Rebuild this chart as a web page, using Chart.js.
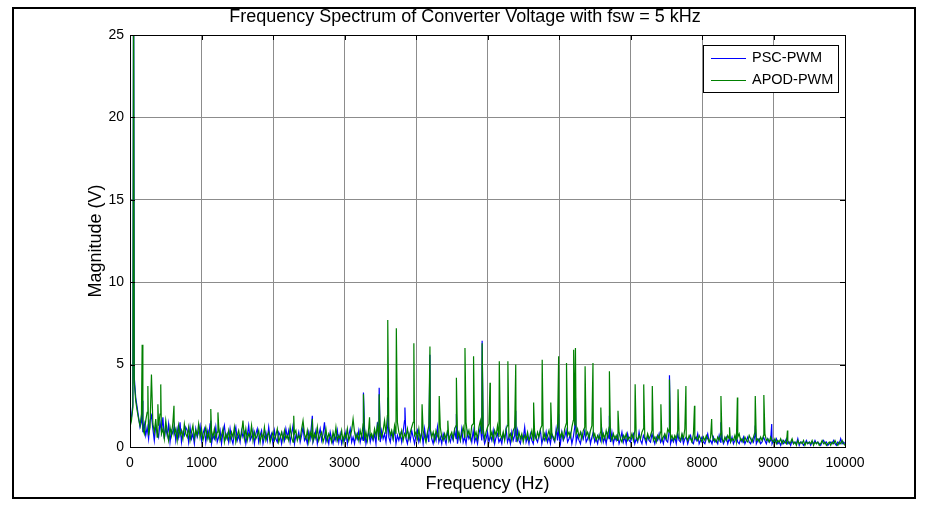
<!DOCTYPE html>
<html>
<head>
<meta charset="utf-8">
<title>Frequency Spectrum of Converter Voltage</title>
<script src="https://cdn.jsdelivr.net/npm/chart.js@4.4.0/dist/chart.umd.min.js"></script>
<style>
  html, body { margin: 0; padding: 0; background: #fff; }
  #wrap { width: 928px; height: 505px; }
</style>
</head>
<body>
<div id="wrap"><canvas id="spectrum" width="928" height="505"></canvas></div>
<script>
// FFT bin width (Hz) of the noise floor arrays below
const binStep = 20;

const xTicks = [0, 1000, 2000, 3000, 4000, 5000, 6000, 7000, 8000, 9000, 10000];
const yTicks = [0, 5, 10, 15, 20, 25];

// APOD-PWM noise floor, one value per 20 Hz bin (0 .. 10000 Hz), 200 Hz per row
const apodNoise = [
  1.2, 1.6, 2.4, 3.9, 2.8, 2.2, 1.7, 1.3, 2.0, 1.1,
  0.8, 1.6, 2.1, 0.7, 1.2, 0.5, 1.4, 0.9, 1.7, 0.6,
  1.3, 2.0, 0.8, 1.1, 0.5, 1.6, 0.9, 0.4, 1.2, 0.7,
  1.5, 0.8, 1.1, 0.4, 1.3, 0.7, 1.0, 0.5, 1.4, 0.8,
  0.6, 1.2, 0.4, 0.9, 1.3, 0.5, 1.0, 0.7, 1.4, 0.6,
  1.1, 0.4, 0.8, 1.2, 0.5, 0.9, 0.3, 1.0, 0.6, 1.1,
  0.5, 0.9, 1.3, 0.4, 0.7, 1.1, 0.3, 0.8, 0.5, 1.0,
  0.4, 0.9, 0.6, 1.2, 0.3, 0.7, 1.0, 0.5, 0.8, 1.3,
  0.5, 1.1, 0.4, 0.8, 0.6, 1.3, 0.4, 0.9, 0.5, 0.7,
  1.0, 0.3, 0.8, 0.5, 1.2, 0.4, 0.7, 0.9, 0.3, 0.6,
  0.9, 0.4, 0.7, 1.1, 0.3, 0.6, 0.9, 0.4, 1.0, 0.5,
  0.7, 0.4, 1.2, 0.6, 0.3, 0.8, 1.0, 0.4, 0.7, 0.5,
  1.1, 0.4, 0.8, 0.5, 1.0, 0.3, 0.9, 0.6, 0.4, 0.8,
  0.5, 1.2, 0.4, 0.7, 0.9, 0.3, 0.6, 1.1, 0.4, 0.8,
  0.6, 0.3, 0.9, 0.5, 1.2, 0.4, 0.7, 0.5, 1.0, 0.3,
  0.8, 0.5, 1.1, 0.4, 0.7, 1.0, 0.3, 0.9, 0.5, 0.8,
  0.4, 1.0, 0.6, 1.4, 0.5, 0.9, 0.4, 1.2, 0.6, 0.8,
  0.5, 1.1, 0.7, 1.3, 0.4, 0.9, 0.6, 1.0, 1.6, 0.8,
  1.9, 1.2, 0.7, 1.0, 0.5, 1.3, 0.8, 1.5, 0.9, 0.6,
  1.0, 0.4, 0.8, 0.6, 1.1, 0.5, 0.9, 1.2, 1.5, 0.7,
  0.9, 0.5, 1.1, 0.4, 0.8, 1.0, 0.6, 0.3, 0.9, 1.3,
  1.1, 0.6, 0.9, 0.4, 1.0, 0.7, 0.5, 1.2, 0.6, 0.4,
  0.8, 0.5, 1.0, 0.4, 0.7, 0.9, 0.5, 1.1, 1.3, 0.6,
  0.9, 0.4, 0.8, 1.2, 0.6, 1.5, 0.7, 1.0, 0.5, 1.3,
  1.4, 0.6, 0.9, 0.5, 1.2, 1.6, 0.8, 1.1, 0.5, 0.9,
  1.2, 1.4, 0.6, 0.9, 0.4, 1.0, 0.7, 1.3, 0.6, 0.8,
  0.5, 0.9, 0.4, 1.1, 1.3, 0.6, 0.8, 0.4, 1.0, 1.2,
  0.7, 0.4, 0.9, 0.5, 0.8, 0.3, 0.7, 0.5, 0.9, 0.4,
  0.6, 1.0, 0.4, 0.7, 0.5, 0.9, 0.6, 1.1, 1.3, 0.5,
  0.8, 0.4, 0.7, 1.0, 0.5, 0.8, 0.6, 0.4, 0.9, 1.2,
  1.0, 0.6, 0.9, 0.5, 1.1, 1.4, 0.7, 0.9, 0.6, 1.2,
  1.6, 1.3, 0.8, 1.1, 0.6, 0.9, 0.5, 1.0, 1.2, 0.7,
  0.9, 0.5, 1.0, 1.3, 0.6, 0.8, 0.4, 0.7, 0.5, 0.9,
  0.4, 0.8, 0.5, 1.0, 0.6, 1.2, 0.7, 0.4, 0.8, 0.5,
  0.7, 0.4, 0.9, 0.5, 0.3, 0.7, 0.5, 0.8, 0.4, 0.6,
  0.5, 0.8, 0.4, 1.0, 0.6, 0.4, 0.7, 0.5, 0.9, 1.1,
  0.6, 0.4, 0.8, 0.5, 0.7, 1.0, 0.4, 0.6, 0.3, 0.7,
  0.5, 0.9, 0.4, 0.6, 0.8, 0.5, 1.1, 0.9, 0.5, 0.7,
  0.4, 0.7, 0.5, 1.0, 0.6, 0.4, 0.8, 0.5, 1.1, 0.6,
  0.4, 0.7, 0.5, 0.3, 0.8, 0.5, 0.6, 0.4, 0.7, 0.5,
  0.3, 0.6, 0.4, 0.7, 0.5, 0.3, 0.6, 0.8, 0.4, 0.5,
  0.3, 0.6, 0.4, 0.8, 0.5, 0.3, 0.6, 0.4, 0.7, 0.5,
  0.3, 0.5, 0.4, 0.7, 0.3, 0.6, 0.8, 0.4, 0.5, 0.3,
  0.6, 0.4, 0.3, 0.7, 0.5, 0.3, 0.6, 0.9, 0.4, 0.5,
  0.3, 0.6, 0.4, 0.7, 0.8, 0.4, 0.5, 0.3, 0.6, 0.4,
  0.3, 0.5, 0.2, 0.4, 0.3, 0.5, 0.2, 0.4, 0.3, 0.2,
  0.4, 0.2, 0.3, 0.5, 0.2, 0.3, 0.1, 0.4, 0.2, 0.3,
  0.2, 0.4, 0.1, 0.3, 0.2, 0.3, 0.2, 0.4, 0.1, 0.3,
  0.2, 0.3, 0.1, 0.2, 0.4, 0.2, 0.3, 0.1, 0.2, 0.3,
  0.1, 0.3, 0.2, 0.4, 0.2, 0.1, 0.3, 0.2, 0.4, 0.2,
  0.1
];

// PSC-PWM noise floor, same bins
const pscNoise = [
  1.3, 1.8, 2.6, 4.2, 3.0, 2.4, 1.8, 1.2, 1.5, 0.9,
  1.4, 0.7, 1.2, 0.5, 1.6, 0.8, 1.1, 0.4, 1.3, 0.9,
  0.6, 1.5, 0.9, 1.8, 0.5, 1.2, 0.7, 1.4, 0.3, 1.0,
  0.8, 1.3, 0.4, 1.1, 0.6, 1.5, 0.3, 0.9, 0.7, 1.2,
  1.0, 0.3, 1.2, 0.5, 0.8, 0.2, 1.1, 0.6, 0.9, 1.3,
  0.4, 0.8, 1.1, 0.3, 1.0, 0.6, 1.4, 0.2, 0.7, 0.5,
  1.2, 0.3, 0.6, 1.0, 0.2, 0.9, 1.3, 0.5, 0.8, 0.3,
  1.1, 0.5, 0.2, 0.8, 1.2, 0.4, 0.7, 0.3, 1.0, 0.6,
  0.9, 0.2, 0.7, 1.3, 0.4, 0.6, 1.0, 0.2, 0.8, 1.1,
  0.3, 0.7, 1.0, 0.2, 0.6, 0.9, 0.4, 1.2, 0.5, 0.8,
  0.2, 1.0, 0.5, 0.3, 0.9, 0.7, 0.2, 0.8, 0.4, 1.1,
  0.6, 1.0, 0.3, 0.8, 1.3, 0.2, 0.7, 0.5, 0.9, 0.3,
  0.7, 1.2, 0.4, 0.6, 0.2, 0.9, 0.5, 1.4, 0.3, 0.6,
  1.0, 0.2, 0.7, 1.1, 0.4, 0.8, 1.5, 0.3, 0.6, 0.2,
  0.9, 0.5, 0.2, 0.7, 0.4, 1.0, 0.3, 0.8, 0.2, 0.6,
  0.4, 0.9, 0.2, 0.7, 1.1, 0.3, 0.6, 0.2, 0.8, 0.5,
  1.0, 0.3, 0.7, 0.4, 1.2, 0.2, 0.6, 0.9, 0.3, 0.7,
  0.4, 0.8, 0.2, 1.5, 0.6, 0.3, 1.0, 0.5, 0.8, 0.3,
  1.2, 0.6, 0.3, 0.9, 0.5, 1.1, 0.2, 0.7, 0.4, 0.8,
  0.3, 0.9, 1.6, 0.5, 0.2, 0.8, 0.4, 1.0, 0.6, 0.2,
  0.7, 1.0, 0.3, 0.6, 0.9, 0.2, 1.1, 0.4, 0.8, 0.3,
  1.0, 0.5, 0.2, 0.7, 0.4, 1.2, 0.3, 0.6, 0.2, 0.8,
  0.5, 0.2, 0.9, 0.6, 0.3, 0.7, 0.4, 1.0, 0.5, 0.2,
  0.8, 0.4, 1.1, 0.3, 0.6, 0.2, 0.9, 0.5, 0.7, 0.3,
  1.0, 0.3, 0.6, 0.2, 0.8, 1.2, 0.4, 0.7, 0.2, 0.5,
  0.9, 0.3, 0.7, 0.4, 1.0, 0.2, 0.6, 0.8, 0.3, 0.5,
  0.2, 0.8, 0.5, 1.1, 0.3, 0.6, 0.2, 0.9, 0.4, 0.7,
  0.3, 1.0, 0.4, 0.2, 0.7, 0.5, 1.2, 0.3, 0.6, 0.2,
  0.8, 0.4, 0.2, 0.9, 0.5, 0.3, 0.7, 1.0, 0.2, 0.6,
  0.4, 0.9, 0.3, 0.6, 0.2, 0.8, 0.5, 0.3, 1.1, 0.4,
  0.7, 0.2, 0.9, 0.4, 0.6, 1.0, 0.3, 0.5, 0.8, 0.2,
  0.6, 1.2, 0.3, 0.7, 0.4, 0.2, 0.8, 0.5, 1.0, 0.3,
  0.5, 0.8, 0.2, 0.6, 0.9, 0.3, 0.5, 0.2, 0.7, 0.4,
  1.0, 0.3, 0.6, 0.2, 0.8, 0.5, 0.3, 0.9, 0.2, 0.6,
  0.4, 0.7, 0.2, 0.5, 0.9, 0.3, 0.6, 0.2, 0.8, 0.4,
  0.3, 0.6, 0.8, 0.2, 0.5, 0.3, 0.9, 0.4, 0.2, 0.7,
  0.5, 0.2, 0.7, 0.4, 0.3, 0.8, 0.5, 0.2, 0.6, 0.4,
  0.8, 0.3, 0.5, 0.2, 0.7, 0.4, 0.3, 0.9, 0.2, 0.5,
  0.3, 0.6, 0.2, 0.8, 0.4, 0.3, 0.7, 0.2, 0.5, 0.6,
  0.2, 0.5, 0.7, 0.3, 0.2, 0.6, 0.4, 0.8, 0.2, 0.4,
  0.6, 0.3, 0.2, 0.5, 0.8, 0.3, 0.4, 0.2, 0.6, 0.3,
  0.4, 0.2, 0.7, 0.3, 0.5, 0.2, 0.4, 0.6, 0.2, 0.5,
  0.3, 0.6, 0.2, 0.4, 0.7, 0.3, 0.2, 0.5, 0.3, 0.6,
  0.2, 0.4, 0.6, 0.3, 0.2, 0.5, 0.3, 0.7, 0.2, 0.4,
  0.5, 0.2, 0.3, 0.6, 0.4, 0.2, 0.5, 0.3, 0.4, 0.2,
  0.4, 0.3, 0.5, 0.2, 0.3, 0.1, 0.4, 0.2, 0.3, 0.5,
  0.2, 0.3, 0.1, 0.4, 0.2, 0.3, 0.2, 0.5, 0.1, 0.3,
  0.3, 0.1, 0.2, 0.4, 0.2, 0.3, 0.1, 0.3, 0.2, 0.4,
  0.2, 0.3, 0.2, 0.1, 0.3, 0.4, 0.2, 0.3, 0.1, 0.2,
  0.3, 0.2, 0.4, 0.2, 0.1, 0.3, 0.2, 0.5, 0.2, 0.3,
  0.2
];

// harmonic spikes [frequency Hz, magnitude V]
const apodPeaks = [
  [50, 30], [170, 6.2], [250, 3.7], [300, 4.4], [390, 2.6], [430, 3.8],
  [615, 2.5], [1130, 2.3], [1230, 2.1], [1580, 1.6], [2290, 1.9], [2420, 1.6],
  [2550, 1.7], [3120, 1.7], [3265, 3.2], [3350, 1.8], [3485, 3.2], [3605, 7.7],
  [3725, 7.2], [3970, 6.3], [4085, 2.6], [4195, 6.1], [4325, 3.1], [4445, 1.6],
  [4565, 4.2], [4685, 6.0], [4805, 5.5], [4925, 6.3], [5035, 3.9], [5165, 5.2],
  [5285, 5.2], [5395, 5.0], [5645, 2.7], [5765, 5.3], [5885, 2.7], [5995, 5.5],
  [6105, 5.1], [6205, 5.9], [6230, 6.0], [6365, 4.9], [6475, 5.1], [6585, 2.4],
  [6705, 4.6], [6825, 2.2], [7065, 3.8], [7185, 3.8], [7305, 3.7], [7425, 2.6],
  [7545, 4.1], [7665, 3.5], [7775, 3.7], [7895, 2.5], [8135, 1.7], [8265, 3.1],
  [8385, 1.2], [8495, 3.0], [8745, 3.1], [8865, 3.15], [9195, 1.0]
];

const pscPeaks = [
  [50, 30], [170, 2.8], [300, 1.9], [1130, 1.6], [2550, 1.9], [3265, 3.3],
  [3485, 3.6], [3605, 3.0], [3845, 2.4], [4195, 5.6], [4565, 2.0], [4925, 6.45],
  [5395, 2.2], [5995, 2.0], [6230, 3.0], [6705, 1.9], [7545, 4.35], [8265, 1.5],
  [8745, 1.3], [8975, 1.4]
];

const pscColor = "#0000ff";
const apodColor = "#008000";

function buildSeries(noise, peaks) {
  const pts = noise.map((v, i) => ({ x: i * binStep, y: v }));
  peaks.forEach(([f, v]) => {
    const hit = pts.find(p => p.x === f);
    if (hit) hit.y = v;
    else pts.push({ x: f, y: v });
  });
  return pts.sort((a, b) => a.x - b.x);
}

const font = "'Liberation Sans', Arial, sans-serif";

// axes box, inward ticks, legend box and the outer figure frame (MATLAB look)
const matlabFrame = {
  id: "matlabFrame",
  beforeDraw(chart) {
    const ctx = chart.ctx;
    ctx.save();
    ctx.fillStyle = "#fff";
    ctx.fillRect(0, 0, chart.width, chart.height);
    ctx.restore();
  },
  afterDraw(chart) {
    const ctx = chart.ctx;
    const a = chart.chartArea;
    const xs = chart.scales.x, ys = chart.scales.y;
    ctx.save();
    ctx.strokeStyle = "#000";
    ctx.lineWidth = 1;
    ctx.strokeRect(Math.round(a.left) + 0.5, Math.round(a.top) + 0.5,
      Math.round(a.right - a.left), Math.round(a.bottom - a.top));

    ctx.beginPath();
    xTicks.forEach(t => {
      const px = Math.round(xs.getPixelForValue(t)) + 0.5;
      ctx.moveTo(px, a.bottom); ctx.lineTo(px, a.bottom - 5);
      ctx.moveTo(px, a.top); ctx.lineTo(px, a.top + 5);
    });
    yTicks.forEach(t => {
      const py = Math.round(ys.getPixelForValue(t)) + 0.5;
      ctx.moveTo(a.left, py); ctx.lineTo(a.left + 5, py);
      ctx.moveTo(a.right, py); ctx.lineTo(a.right - 5, py);
    });
    ctx.stroke();

    // legend
    const lx = 703, ly = 45, lw = 135, lh = 47;
    ctx.fillStyle = "#fff";
    ctx.fillRect(lx, ly, lw, lh);
    ctx.strokeRect(lx + 0.5, ly + 0.5, lw, lh);
    const items = [["PSC-PWM", pscColor], ["APOD-PWM", apodColor]];
    ctx.font = "14.5px " + font;
    ctx.textBaseline = "middle";
    items.forEach(([label, col], i) => {
      const y = ly + 13 + i * 22;
      ctx.strokeStyle = col;
      ctx.beginPath();
      ctx.moveTo(lx + 8, y + 0.5); ctx.lineTo(lx + 43, y + 0.5);
      ctx.stroke();
      ctx.fillStyle = "#000";
      ctx.fillText(label, lx + 49, y);
    });

    // figure frame
    ctx.strokeStyle = "#000";
    ctx.lineWidth = 2;
    ctx.strokeRect(13, 8, 902, 490);
    ctx.restore();
  }
};

new Chart(document.getElementById("spectrum"), {
  type: "line",
  data: {
    datasets: [
      {
        label: "PSC-PWM",
        data: buildSeries(pscNoise, pscPeaks),
        borderColor: pscColor,
        order: 1
      },
      {
        label: "APOD-PWM",
        data: buildSeries(apodNoise, apodPeaks),
        borderColor: apodColor,
        order: 0
      }
    ]
  },
  options: {
    responsive: false,
    animation: false,
    events: [],
    layout: { padding: { left: 85, right: 83, top: 0, bottom: 10 } },
    elements: {
      point: { radius: 0 },
      line: { borderWidth: 1.2, tension: 0 }
    },
    scales: {
      x: {
        type: "linear",
        min: 0,
        max: 10000,
        afterBuildTicks: s => { s.ticks = xTicks.map(v => ({ value: v })); },
        afterFit: s => { s.height = 48; },
        grid: { color: "#8c8c8c", lineWidth: 1, drawTicks: false },
        border: { display: false },
        ticks: { color: "#000", font: { family: font, size: 14 }, padding: 8, maxRotation: 0, callback: v => String(v) },
        title: { display: true, text: "Frequency (Hz)", color: "#000", font: { family: font, size: 18 }, padding: 0 }
      },
      y: {
        min: 0,
        max: 25,
        afterBuildTicks: s => { s.ticks = yTicks.map(v => ({ value: v })); },
        afterFit: s => { s.width = 45; },
        grid: { color: "#8c8c8c", lineWidth: 1, drawTicks: false },
        border: { display: false },
        ticks: { color: "#000", font: { family: font, size: 14 }, padding: 6, callback: v => String(v) },
        title: { display: true, text: "Magnitude (V)", color: "#000", font: { family: font, size: 18 }, padding: 0 }
      }
    },
    plugins: {
      legend: { display: false },
      tooltip: { enabled: false },
      title: {
        display: true,
        text: "Frequency Spectrum of Converter Voltage with fsw = 5 kHz",
        color: "#000",
        font: { family: font, size: 18, weight: "normal" },
        padding: { top: 6, bottom: 7.4 }
      }
    }
  },
  plugins: [matlabFrame]
});
</script>
</body>
</html>
